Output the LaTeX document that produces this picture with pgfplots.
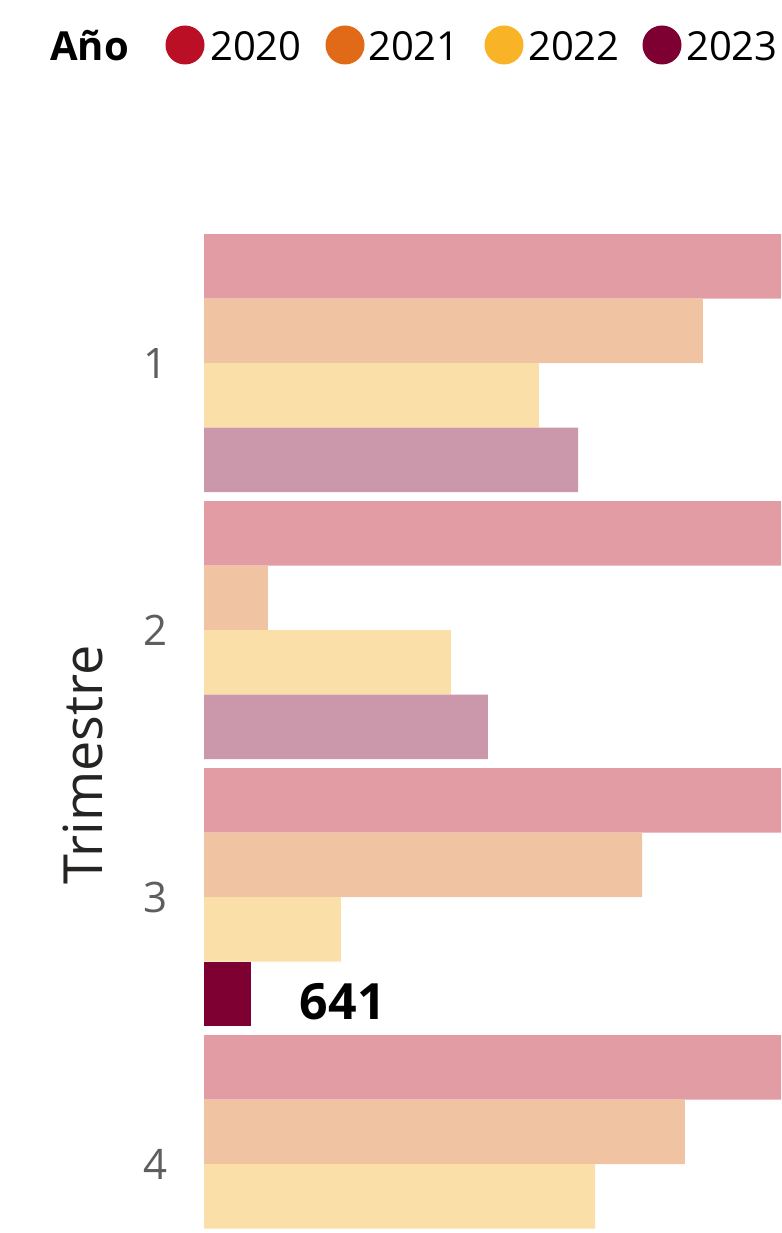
\documentclass[border=0pt]{standalone}
\usepackage{fontspec}
\setmainfont{Open Sans}
\usepackage{pgfplots}
\pgfplotsset{compat=1.18}

% full colours (legend, highlighted bar)
\definecolor{c20}{HTML}{BA0F25}
\definecolor{c21}{HTML}{E06A17}
\definecolor{c22}{HTML}{F8B426}
\definecolor{c23}{HTML}{7E0033}
% faded colours (bars not selected)
\definecolor{f20}{HTML}{E29CA4}
\definecolor{f21}{HTML}{F0C4A3}
\definecolor{f22}{HTML}{FAE0A8}
\definecolor{f23}{HTML}{CA97AB}
\definecolor{tickgray}{HTML}{605E5C}
\definecolor{titlegray}{HTML}{252423}

\newcommand{\legfont}{\fontsize{40}{48}\selectfont}

\begin{document}
\begin{tikzpicture}[x=1pt,y=1pt]
\path[use as bounding box] (0,0) rectangle (781,-1233);

% legend
\node[font=\bfseries\legfont, anchor=base west, inner sep=0pt] at (50,-61) {Año};
\fill[c20] (185,-45) circle (19.5);
\node[font=\legfont, anchor=base west, inner sep=0pt] at (210,-61) {2020};
\fill[c21] (345,-45) circle (19.5);
\node[font=\legfont, anchor=base west, inner sep=0pt] at (368,-61) {2021};
\fill[c22] (504,-45) circle (19.5);
\node[font=\legfont, anchor=base west, inner sep=0pt] at (528,-61) {2022};
\fill[c23] (662,-45) circle (19.5);
\node[font=\legfont, anchor=base west, inner sep=0pt] at (686,-61) {2023};

% axis title
\node[font=\fontsize{54}{60}\selectfont, text=titlegray, rotate=90, anchor=base, inner sep=0pt] at (102,-765) {Trimestre};

\begin{axis}[
    at={(204pt,-229.5pt)}, anchor=north west,
    scale only axis,
    width=577pt, height=1003.5pt,
    xmin=0, xmax=7920,
    ymin=0.5, ymax=4.258,
    y dir=reverse,
    xbar, bar width=64.5pt,
    /pgf/number format/assume math mode=true,
    xtick=\empty,
    ytick={1,2,3,4},
    yticklabels={1,2,3,4},
    yticklabel style={font=\fontsize{42}{50}\selectfont, text=tickgray, inner sep=0pt, xshift=-36pt},
    major tick length=0pt,
    axis line style={draw=none},
    tick style={draw=none},
]
\addplot[draw=none, fill=f20, bar shift=96.75pt] coordinates {(9500,1) (9500,2) (9500,3) (9500,4)};
\addplot[draw=none, fill=f21, bar shift=32.25pt] coordinates {(6849,1) (878,2) (6012,3) (6602,4)};
\addplot[draw=none, fill=f22, bar shift=-32.25pt] coordinates {(4598,1) (3390,2) (1880,3) (5367,4)};
\addplot[draw=none, fill=f23, bar shift=-96.75pt] coordinates {(5134,1) (3898,2)};
\addplot[draw=none, fill=c23, bar shift=-96.75pt,
    nodes near coords,
    nodes near coords style={font=\bfseries\fontsize{50}{60}\selectfont, text=black, anchor=west, inner sep=0pt, xshift=49pt, yshift=-8pt},
] coordinates {(641,3)};
\end{axis}
\end{tikzpicture}
\end{document}
